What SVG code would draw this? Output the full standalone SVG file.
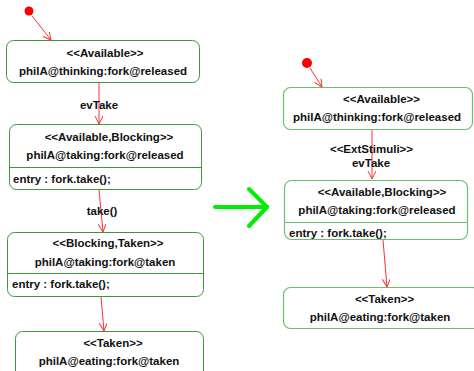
<svg xmlns="http://www.w3.org/2000/svg" width="474" height="371" viewBox="0 0 474 371">
<style>
text{font-family:"Liberation Sans",Arial,sans-serif;font-size:11.5px;font-weight:bold;fill:#111}
.c{text-anchor:middle}
.nl{fill:#fff;stroke:#3a9a3a;stroke-width:1}
.nr{fill:#fff;stroke:#6cbf6c;stroke-width:1.2}
.sep{stroke:#3a9a3a;stroke-width:1}
.sepr{stroke:#6cbf6c;stroke-width:1.2}
.e{stroke:#ff3030;stroke-width:1;fill:none;marker-end:url(#ah)}
</style>
<defs>
<marker id="ah" markerWidth="10" markerHeight="10" refX="8" refY="4" orient="auto" markerUnits="userSpaceOnUse">
<path d="M0,0 L8,4 L0,8" fill="none" stroke="#ff3030" stroke-width="1"/>
</marker>
</defs>
<rect width="474" height="371" fill="#fff"/>
<g id="connectors">
<circle cx="29" cy="11" r="4.5" fill="#ff0000"/>
<line class="e" x1="32" y1="16" x2="51" y2="40"/>
<line class="e" x1="99" y1="83" x2="99" y2="124"/>
<line class="e" x1="99" y1="190" x2="103" y2="232"/>
<line class="e" x1="101" y1="297" x2="104" y2="331"/>
<text class="c" x="99" y="109">evTake</text>
<text class="c" x="102" y="215">take()</text>
<circle cx="307" cy="63" r="5" fill="#ff0000"/>
<line class="e" x1="310" y1="68" x2="322" y2="87"/>
<line class="e" x1="372" y1="130" x2="372" y2="179"/>
<line class="e" x1="383" y1="240" x2="387" y2="287"/>
<text class="c" x="371.5" y="153">&lt;&lt;ExtStimuli&gt;&gt;</text>
<text class="c" x="371" y="167">evTake</text>
</g>
<g id="bigarrow" fill="none" stroke="#00ee00" stroke-width="4" stroke-linecap="round" stroke-linejoin="round">
<line x1="215" y1="207" x2="267" y2="207"/>
<polyline points="249,189 267,207 249,226"/>
</g>
<g id="L1">
<rect class="nl" x="6.5" y="40.5" width="193" height="42" rx="7"/>
<text class="c" x="105" y="57">&lt;&lt;Available&gt;&gt;</text>
<text class="c" x="103" y="75">philA@thinking:fork@released</text>
</g>
<g id="L2">
<rect class="nl" x="9.5" y="124.5" width="192" height="65" rx="7"/>
<text class="c" x="109" y="141">&lt;&lt;Available,Blocking&gt;&gt;</text>
<text class="c" x="105" y="159">philA@taking:fork@released</text>
<line class="sep" x1="10" y1="167.5" x2="201" y2="167.5"/>
<text x="13" y="183">entry : fork.take();</text>
</g>
<g id="L3">
<rect class="nl" x="7.5" y="232.5" width="196" height="64" rx="7"/>
<text class="c" x="108" y="247">&lt;&lt;Blocking,Taken&gt;&gt;</text>
<text class="c" x="105" y="266">philA@taking:fork@taken</text>
<line class="sep" x1="8" y1="273.5" x2="203" y2="273.5"/>
<text x="12" y="288">entry : fork.take();</text>
</g>
<g id="L4">
<rect class="nl" x="15.5" y="331.5" width="188" height="60" rx="7"/>
<text class="c" x="113" y="347">&lt;&lt;Taken&gt;&gt;</text>
<text class="c" x="109" y="365">philA@eating:fork@taken</text>
</g>
<g id="R1">
<rect class="nr" x="283.5" y="87.5" width="189" height="42" rx="7"/>
<text class="c" x="381.5" y="103">&lt;&lt;Available&gt;&gt;</text>
<text class="c" x="377" y="121">philA@thinking:fork@released</text>
</g>
<g id="R2">
<rect class="nr" x="284.5" y="180.5" width="183" height="59" rx="7"/>
<text class="c" x="382" y="196">&lt;&lt;Available,Blocking&gt;&gt;</text>
<text class="c" x="377" y="214">philA@taking:fork@released</text>
<line class="sepr" x1="285" y1="222.5" x2="467" y2="222.5"/>
<text x="289" y="237">entry : fork.take();</text>
</g>
<g id="R3">
<rect class="nr" x="283.5" y="287.5" width="196" height="41" rx="7"/>
<text class="c" x="384.5" y="303">&lt;&lt;Taken&gt;&gt;</text>
<text class="c" x="380" y="321">philA@eating:fork@taken</text>
</g>
</svg>
